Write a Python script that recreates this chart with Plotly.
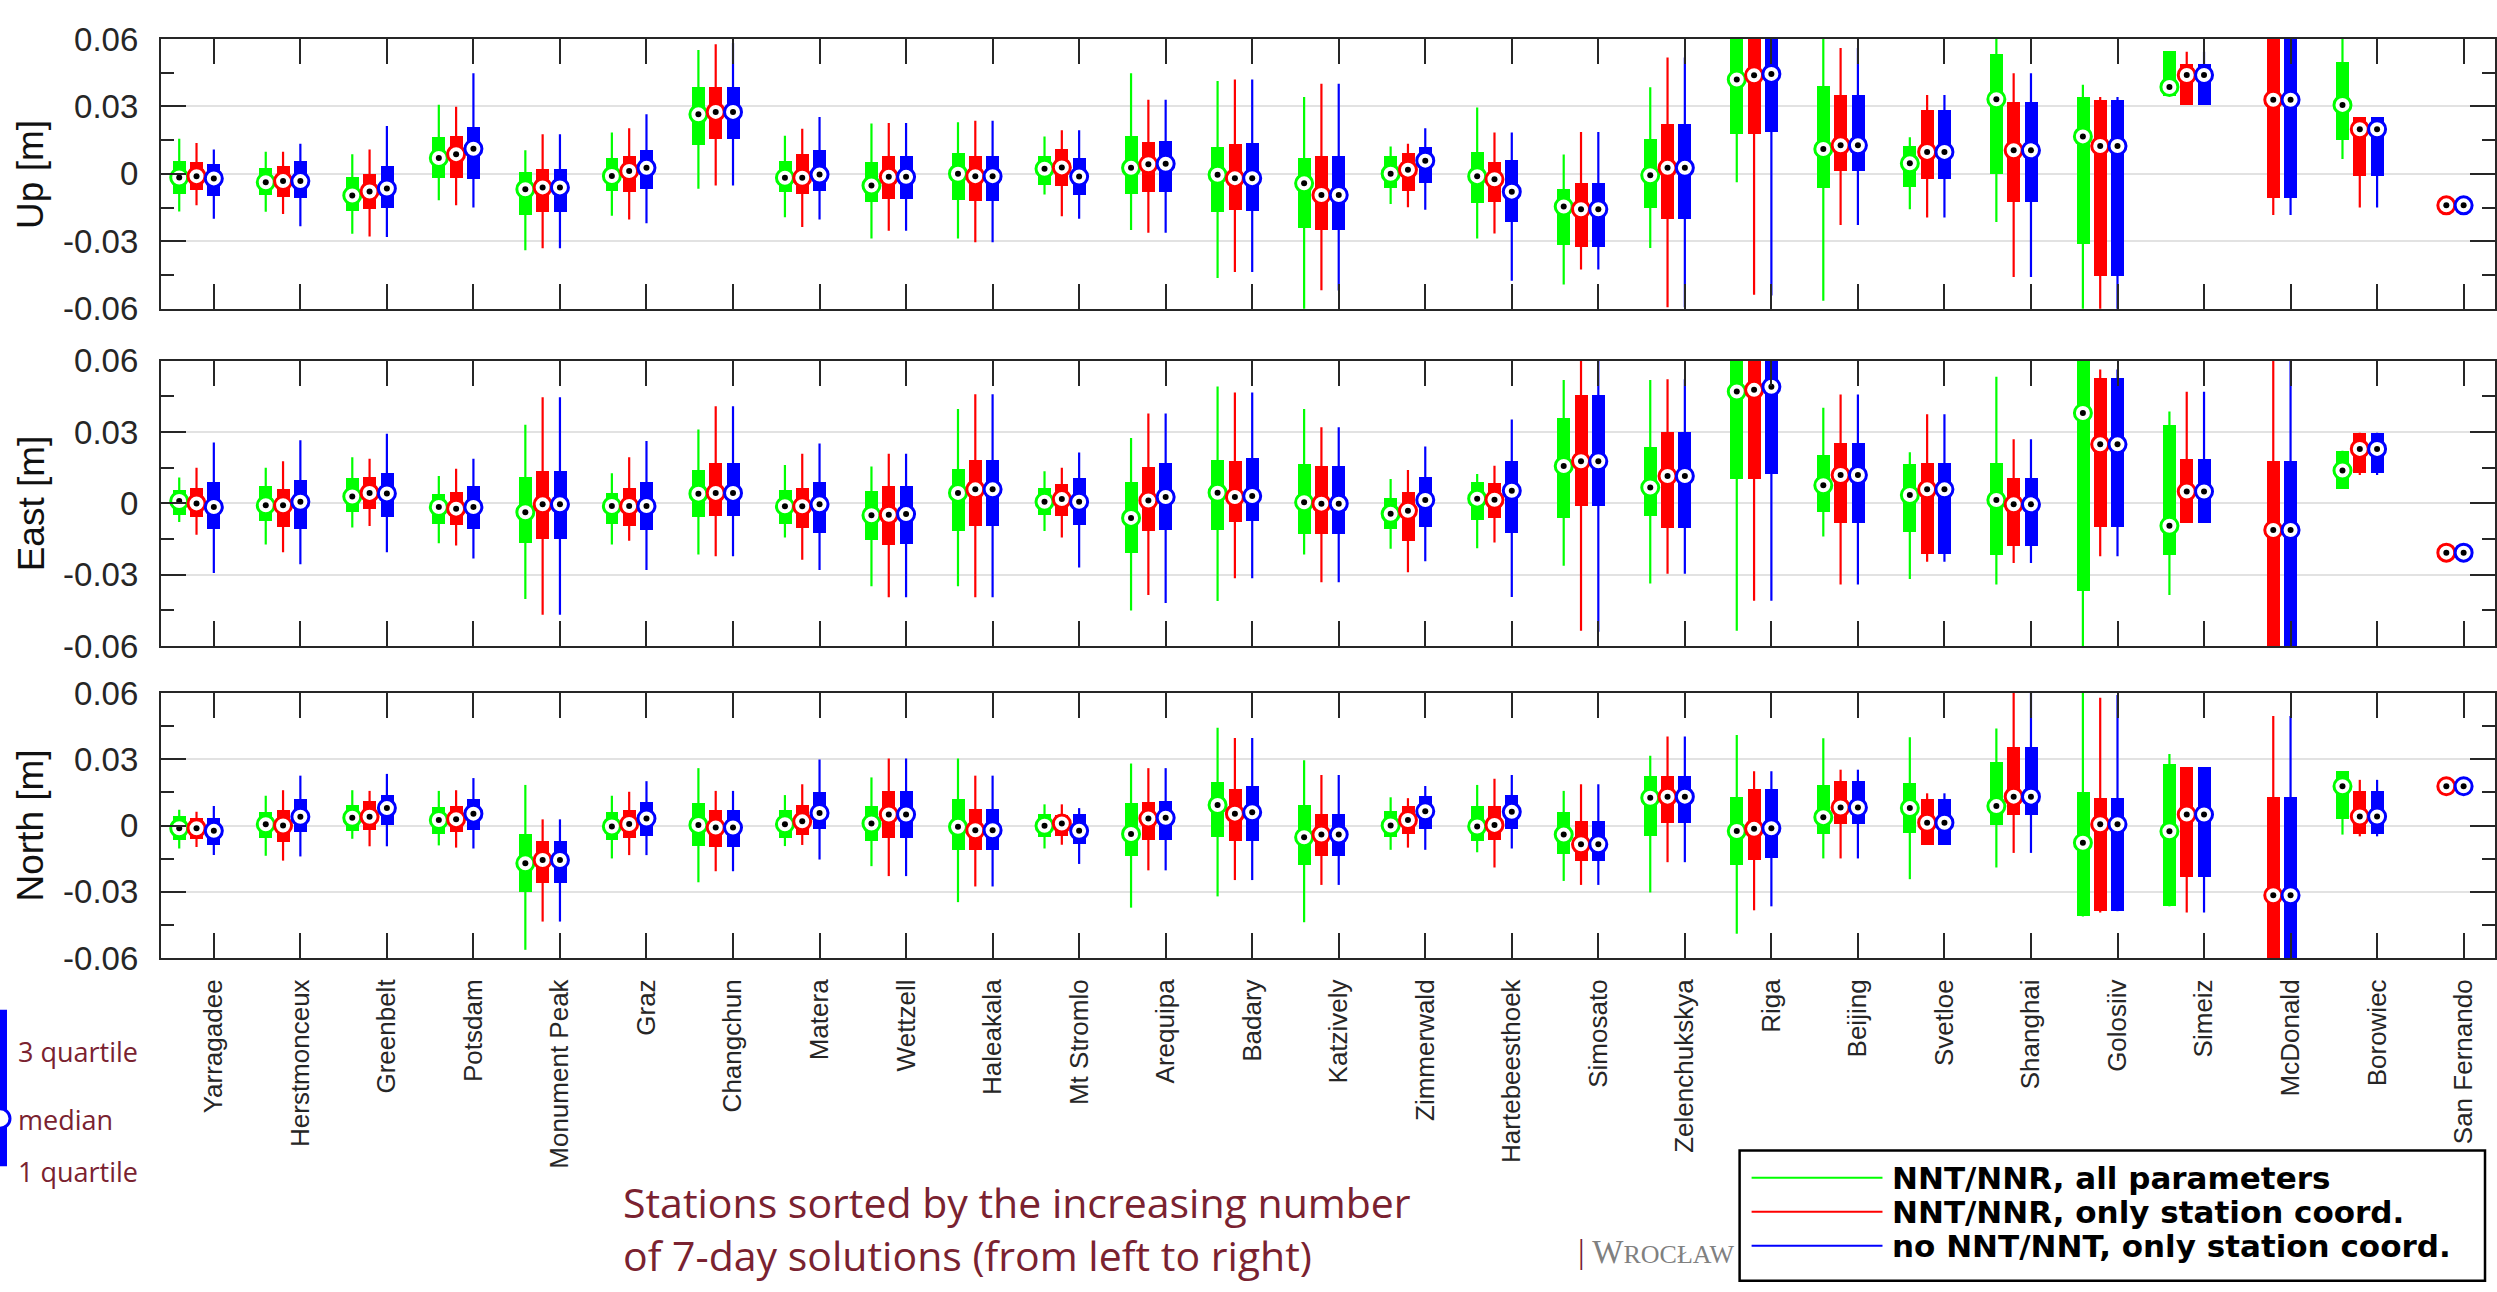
import plotly.graph_objects as go

# Station names, sorted by the increasing number of 7-day solutions
stations = [
    "Yarragadee", "Herstmonceux", "Greenbelt", "Potsdam", "Monument Peak", "Graz",
    "Changchun", "Matera", "Wettzell", "Haleakala", "Mt Stromlo", "Arequipa", "Badary",
    "Katzively", "Zimmerwald", "Hartebeesthoek", "Simosato", "Zelenchukskya", "Riga",
    "Beijing", "Svetloe", "Shanghai", "Golosiiv", "Simeiz", "McDonald", "Borowiec",
    "San Fernando",
]

# Per station: (lower whisker, 1st quartile, median, 3rd quartile, upper whisker) in mm.
# None = no solutions for that variant.
up_all = [
    (-16.7, -8.9, -1.6, 5.8, 15.7), (-16.8, -9.5, -3.7, 2.7, 9.9), (-26.6, -16.7, -9.6, -1.4, 8.8),
    (-11.7, -1.7, 7.1, 16.4, 30.8), (-34.0, -18.3, -6.8, 0.7, 10.5), (-18.6, -7.8, -0.9, 7.1, 18.4),
    (-6.6, 12.8, 26.5, 38.7, 55.1), (-19.3, -8.2, -1.7, 5.9, 17.0), (-28.8, -12.7, -5.2, 5.3, 22.4),
    (-28.8, -11.5, 0.1, 9.2, 23.0), (-9.2, -5.0, 2.3, 8.1, 16.7), (-25.0, -8.9, 2.7, 17.0, 44.8),
    (-46.3, -16.8, -0.4, 12.1, 41.4), (-62.0, -23.9, -4.2, 6.9, 34.2), (-13.4, -6.3, 0.1, 8.1, 12.2),
    (-28.8, -13.2, -1.0, 9.6, 29.6), (-49.2, -31.5, -14.5, -6.6, 8.6), (-33.0, -15.0, -0.6, 15.7, 38.6),
    (-3.7, 17.8, 42.0, 64.0, 75.0), (-56.4, -6.2, 11.1, 39.0, 61.0), (-15.7, -5.9, 4.7, 12.4, 16.3),
    (-21.4, 0.1, 33.2, 53.4, 61.0), (-62.0, -31.2, 16.7, 34.0, 39.7), (34.7, 34.7, 38.7, 54.5, 54.5),
    None, (6.6, 15.1, 30.7, 49.8, 61.0), None,
]
up_sta = [
    (-14.0, -7.2, -1.0, 5.3, 13.8), (-17.8, -10.1, -3.2, 3.6, 9.9), (-27.9, -15.5, -7.8, 0.1, 10.9),
    (-14.0, -1.7, 8.8, 16.8, 29.9), (-33.1, -16.8, -6.0, 2.0, 17.7), (-20.3, -7.9, 1.3, 8.1, 20.3),
    (-5.2, 15.5, 27.6, 38.7, 57.7), (-23.6, -8.9, -1.7, 8.8, 20.1), (-25.3, -11.1, -1.3, 8.1, 22.7),
    (-30.4, -12.2, -1.0, 8.1, 23.6), (-18.9, -5.6, 2.9, 10.9, 19.4), (-26.2, -8.1, 4.3, 14.2, 33.0),
    (-43.7, -16.0, -1.9, 13.2, 42.0), (-51.8, -24.9, -9.4, 7.8, 40.1), (-14.8, -7.6, 1.9, 9.1, 13.4),
    (-26.5, -12.4, -2.4, 5.3, 18.4), (-42.5, -32.5, -15.7, -4.2, 18.7), (-59.3, -20.3, 2.7, 22.0, 51.8),
    (-53.8, 17.8, 43.9, 64.0, 75.0), (-22.7, 1.2, 12.7, 35.1, 56.0), (-19.4, -2.2, 9.8, 28.5, 35.1),
    (-45.9, -12.5, 10.5, 31.8, 44.8), (-62.0, -45.6, 12.4, 33.0, 34.2), (30.7, 30.7, 44.0, 49.0, 54.4),
    (-18.3, -10.6, 33.0, 64.0, 75.0), (-15.0, -1.0, 19.9, 25.3, 25.3), (-14.0, -14.0, -14.0, -14.0, -14.0),
]
up_none = [
    (-20.0, -9.8, -2.0, 4.2, 10.9), (-23.3, -10.6, -3.2, 5.8, 13.4), (-28.1, -15.1, -6.5, 3.7, 21.3),
    (-15.0, -2.2, 11.2, 20.7, 44.8), (-33.1, -16.8, -6.0, 2.0, 17.7), (-22.0, -6.6, 2.7, 10.8, 26.5),
    (-5.2, 15.5, 27.6, 38.7, 58.4), (-20.3, -7.8, -0.3, 10.5, 25.3), (-25.3, -11.1, -1.3, 8.1, 22.7),
    (-30.4, -12.2, -1.0, 8.1, 23.6), (-20.0, -9.4, -1.2, 7.1, 19.4), (-26.2, -8.1, 4.5, 14.7, 33.0),
    (-43.7, -16.7, -1.9, 13.7, 42.0), (-51.9, -24.9, -9.4, 7.8, 40.1), (-16.0, -3.9, 5.9, 11.9, 20.3),
    (-47.5, -21.4, -7.9, 6.2, 18.4), (-42.5, -32.5, -15.7, -4.2, 18.7), (-59.3, -20.3, 2.7, 22.0, 51.8),
    (-54.1, 18.4, 44.5, 64.0, 75.0), (-22.7, 1.2, 12.7, 35.1, 56.0), (-19.4, -2.2, 9.8, 28.5, 35.1),
    (-45.9, -12.5, 10.5, 31.8, 44.8), (-62.0, -45.6, 12.4, 33.0, 34.2), (30.7, 30.7, 44.0, 49.0, 54.4),
    (-18.3, -10.6, 33.0, 64.0, 75.0), (-15.0, -1.0, 19.9, 25.3, 25.3), (-14.0, -14.0, -14.0, -14.0, -14.0),
]

east_all = [
    (-7.8, -4.8, 1.0, 6.0, 10.9), (-17.3, -7.2, -0.8, 7.5, 15.0), (-10.1, -3.3, 2.9, 10.8, 19.4),
    (-16.8, -8.5, -1.5, 4.0, 11.5), (-40.2, -16.4, -3.7, 11.3, 33.0), (-17.3, -8.5, -1.1, 4.4, 12.7),
    (-21.5, -5.7, 4.1, 14.0, 31.0), (-14.3, -8.5, -1.2, 5.7, 16.1), (-34.8, -15.3, -5.0, 5.2, 15.5),
    (-34.8, -11.6, 4.4, 14.5, 39.7), (-11.6, -4.8, 0.7, 6.8, 13.5), (-45.0, -20.5, -6.1, 9.3, 27.5),
    (-41.0, -11.0, 4.5, 18.5, 49.1), (-21.5, -12.5, 0.5, 16.6, 39.7), (-19.1, -10.5, -4.4, 2.3, 10.2),
    (-18.8, -6.8, 2.0, 9.3, 12.3), (-26.2, -5.9, 15.7, 36.0, 51.8), (-33.7, -5.0, 6.7, 23.9, 51.8),
    (-53.5, 10.5, 47.0, 64.0, 75.0), (-13.9, -3.4, 7.6, 20.5, 40.2), (-31.8, -12.0, 3.5, 16.6, 21.5),
    (-34.1, -21.5, 1.4, 17.0, 53.2), (-64.0, -36.5, 38.0, 64.0, 75.0), (-38.5, -21.4, -9.4, 33.3, 38.6),
    None, (6.4, 6.4, 13.8, 22.1, 22.1), None,
]
east_sta = [
    (-13.2, -5.7, 0.0, 6.8, 15.0), (-20.5, -9.8, -0.8, 6.1, 17.7), (-9.5, -2.0, 4.4, 11.3, 18.8),
    (-17.7, -9.1, -2.2, 5.0, 14.6), (-46.8, -14.7, -0.4, 13.6, 44.6), (-15.7, -9.3, -1.1, 6.7, 19.4),
    (-22.2, -5.2, 4.4, 17.2, 40.8), (-23.7, -10.1, -1.2, 6.7, 20.9), (-39.4, -17.3, -4.8, 7.6, 20.9),
    (-39.4, -9.3, 5.9, 18.5, 45.9), (-14.3, -5.0, 1.8, 8.3, 15.0), (-38.5, -11.6, 1.2, 15.4, 37.8),
    (-31.5, -7.6, 2.7, 18.1, 46.6), (-33.1, -12.5, -0.1, 15.7, 32.0), (-28.9, -15.7, -3.1, 5.0, 14.0),
    (-16.4, -5.9, 1.5, 8.6, 15.8), (-53.5, -1.1, 17.7, 45.8, 60.3), (-29.6, -10.0, 11.5, 30.0, 52.2),
    (-40.9, 10.5, 47.7, 64.0, 75.0), (-34.1, -8.2, 11.9, 25.6, 45.8), (-24.5, -21.1, 5.9, 17.0, 37.5),
    (-25.1, -17.7, -0.4, 10.8, 27.0), (-22.2, -9.8, 24.8, 52.8, 56.3), (-8.2, -8.2, 5.0, 19.0, 46.9),
    (-64.0, -64.0, -11.2, 18.1, 61.0), (11.9, 12.8, 22.9, 29.7, 29.7), (-20.7, -20.7, -20.7, -20.7, -20.7),
]
east_none = [
    (-29.3, -10.6, -1.5, 9.1, 25.6), (-25.6, -10.4, 0.7, 9.8, 26.5), (-20.5, -5.7, 4.2, 12.8, 29.3),
    (-23.2, -10.8, -1.5, 7.5, 18.8), (-46.8, -14.7, -0.4, 13.6, 44.6), (-28.0, -11.0, -1.1, 9.1, 26.2),
    (-22.2, -5.2, 4.4, 17.2, 40.8), (-28.0, -12.1, -0.4, 9.3, 25.2), (-39.4, -16.8, -4.5, 7.6, 20.9),
    (-39.4, -9.3, 5.9, 18.5, 45.9), (-26.9, -8.9, 0.7, 10.9, 21.4), (-41.9, -11.2, 2.7, 17.0, 37.8),
    (-31.5, -7.4, 3.1, 19.1, 46.6), (-33.1, -12.5, -0.1, 15.7, 32.0), (-24.3, -9.8, 1.4, 11.2, 23.9),
    (-39.3, -12.4, 5.3, 18.1, 35.2), (-53.9, -1.1, 17.7, 45.8, 60.3), (-29.6, -10.0, 11.5, 30.0, 52.2),
    (-40.9, 12.5, 49.0, 64.0, 75.0), (-34.1, -8.2, 11.9, 25.6, 45.8), (-24.5, -21.1, 5.9, 17.0, 37.5),
    (-25.1, -17.7, -0.4, 10.8, 27.0), (-22.2, -9.8, 24.8, 52.8, 56.3), (-8.2, -8.2, 5.0, 19.0, 46.9),
    (-64.0, -64.0, -11.2, 18.1, 61.0), (11.9, 12.8, 22.9, 29.7, 29.7), (-20.7, -20.7, -20.7, -20.7, -20.7),
]

north_all = [
    (-10.4, -6.5, -1.2, 4.3, 7.2), (-13.7, -5.9, 0.6, 6.2, 13.5), (-6.0, -2.4, 3.5, 9.4, 16.0),
    (-9.0, -3.8, 2.5, 8.2, 15.7), (-56.3, -30.3, -17.1, -3.8, 18.4), (-14.9, -6.8, -0.4, 5.9, 13.5),
    (-25.7, -9.3, 0.3, 10.1, 26.0), (-9.3, -5.6, 0.6, 6.8, 13.8), (-18.4, -7.1, 0.9, 8.8, 21.8),
    (-34.7, -11.0, -0.6, 12.1, 30.4), (-10.4, -5.1, -0.1, 5.3, 9.6), (-37.2, -13.7, -3.8, 10.3, 28.1),
    (-32.1, -5.3, 9.3, 19.7, 44.3), (-43.8, -17.8, -5.3, 9.4, 29.6), (-11.0, -5.1, 0.0, 6.6, 12.8),
    (-12.1, -7.2, -0.4, 8.8, 18.4), (-25.1, -12.9, -4.1, 5.9, 15.7), (-30.3, -4.9, 12.6, 22.4, 31.6),
    (-49.0, -18.1, -2.5, 12.8, 41.0), (-14.9, -3.8, 3.8, 18.2, 39.6), (-24.3, -3.2, 7.9, 19.1, 40.0),
    (-19.0, 0.0, 8.8, 28.7, 44.0), (-41.2, -41.2, -7.8, 15.1, 61.0), (-36.6, -36.6, -2.6, 27.8, 32.4),
    None, (-4.1, 2.9, 17.8, 24.7, 24.7), None,
]
north_sta = [
    (-9.7, -6.3, -1.2, 3.2, 6.3), (-15.9, -7.6, 0.0, 6.8, 16.0), (-9.4, -1.9, 4.0, 11.2, 15.7),
    (-10.0, -3.1, 2.9, 8.8, 16.0), (-43.5, -25.9, -15.6, -7.2, 2.8), (-13.4, -5.9, 0.7, 6.8, 15.3),
    (-20.7, -9.9, -0.9, 6.8, 15.7), (-8.8, -4.3, 1.9, 9.4, 18.7), (-22.9, -5.7, 5.0, 15.6, 30.4),
    (-27.6, -11.0, -2.1, 7.6, 22.6), (-8.7, -4.9, 0.9, 4.7, 9.6), (-20.3, -6.5, 3.2, 10.6, 26.0),
    (-24.7, -7.1, 5.4, 16.3, 39.7), (-26.9, -14.0, -4.1, 5.1, 22.9), (-10.0, -3.8, 2.5, 8.8, 12.4),
    (-19.0, -6.8, 0.3, 8.8, 21.2), (-26.9, -16.3, -8.5, 2.2, 18.7), (-16.6, 1.0, 13.1, 22.4, 40.3),
    (-38.4, -15.6, -1.5, 16.5, 24.6), (-14.9, 0.7, 8.2, 20.1, 25.3), (-8.8, -8.8, 1.3, 12.1, 14.6),
    (-12.4, 4.6, 13.1, 35.6, 61.0), (-39.4, -38.8, 0.6, 12.4, 57.9), (-39.4, -23.5, 5.0, 26.5, 26.5),
    (-64.0, -64.0, -31.6, 13.1, 49.6), (-4.9, -3.8, 4.1, 15.7, 20.7), (17.8, 17.8, 17.8, 17.8, 17.8),
]
north_none = [
    (-13.4, -8.8, -2.4, 3.2, 8.8), (-14.0, -3.1, 4.0, 12.1, 22.6), (-9.4, 0.0, 7.9, 13.8, 23.4),
    (-10.4, -1.9, 5.4, 12.2, 21.5), (-43.5, -25.9, -15.6, -7.2, 2.8), (-13.4, -4.9, 3.2, 10.6, 20.1),
    (-20.7, -9.9, -0.9, 6.8, 15.7), (-15.4, -1.5, 5.7, 15.3, 29.9), (-22.9, -5.7, 5.0, 15.6, 30.4),
    (-27.6, -11.0, -2.1, 7.6, 22.6), (-17.4, -8.2, -2.4, 5.4, 7.9), (-20.3, -6.5, 3.5, 11.2, 26.0),
    (-24.7, -7.1, 6.0, 17.8, 39.7), (-26.9, -14.0, -4.1, 5.1, 22.9), (-11.0, -1.5, 6.5, 13.4, 17.9),
    (-10.4, -1.5, 6.2, 14.0, 22.9), (-26.9, -16.3, -8.5, 2.2, 18.7), (-16.6, 1.0, 13.1, 22.4, 40.3),
    (-36.6, -14.7, -1.2, 16.5, 24.6), (-14.9, 0.7, 8.2, 20.1, 25.3), (-8.8, -8.8, 1.3, 12.1, 14.6),
    (-12.4, 4.6, 13.1, 35.6, 61.0), (-38.8, -38.8, 0.6, 12.4, 59.1), (-39.4, -23.5, 5.0, 26.5, 26.5),
    (-64.0, -64.0, -31.6, 13.1, 49.6), (-4.9, -3.8, 4.1, 15.7, 20.7), (17.8, 17.8, 17.8, 17.8, 17.8),
]

series_names = ["NNT/NNR, all parameters", "NNT/NNR, only station coord.", "no NNT/NNT, only station coord."]
series_colors = ["#00FF00", "#FF0000", "#0000FF"]
series_offsets = [-0.4, -0.2, 0.0]

panel_titles = ["Up [m]", "East [m]", "North [m]"]
panel_data = [
    [up_all, up_sta, up_none],
    [east_all, east_sta, east_none],
    [north_all, north_sta, north_none],
]

W, H = 2497, 1292
FONT = "Liberation Sans, Arial, Helvetica, sans-serif"
AXC = "#262626"
LABEL_RED = "#7A2230"

# panel frames in pixels (top, bottom); the x frame spans 161..2497
panel_px = [(21.7, 299.3), (352.7, 646.7), (695.0, 967.7)]
x_left_px = 161.0


def px(x):
    return x / W


def py(y):
    return 1 - y / H


fig = go.Figure()

for row, (title, data) in enumerate(zip(panel_titles, panel_data)):
    xa = "x" if row == 0 else f"x{row + 1}"
    ya = "y" if row == 0 else f"y{row + 1}"
    for name, color, off, stats in zip(series_names, series_colors, series_offsets, data):
        wx, wy = [], []
        bx, bbase, bh = [], [], []
        mx, my = [], []
        for k, s in enumerate(stats, start=1):
            if s is None:
                continue
            lo, q1, med, q3, hi = [v / 1000.0 for v in s]
            pos = k + off
            wx += [pos, pos, None]
            wy += [lo, hi, None]
            bx.append(pos)
            bbase.append(q1)
            bh.append(q3 - q1)
            mx.append(pos)
            my.append(med)
        # whiskers
        fig.add_trace(go.Scatter(
            x=wx, y=wy, mode="lines", line=dict(color=color, width=2.2),
            xaxis=xa, yaxis=ya, showlegend=False, hoverinfo="skip"))
        # interquartile boxes
        fig.add_trace(go.Bar(
            x=bx, y=bh, base=bbase, width=0.15,
            marker=dict(color=color, line=dict(width=0)),
            xaxis=xa, yaxis=ya, showlegend=False, name=name))
        # medians: white ring with a black centre dot
        fig.add_trace(go.Scatter(
            x=mx, y=my, mode="markers",
            marker=dict(symbol="circle", size=17, color="white", line=dict(color=color, width=3)),
            xaxis=xa, yaxis=ya, showlegend=False, name=name))
        fig.add_trace(go.Scatter(
            x=mx, y=my, mode="markers",
            marker=dict(symbol="circle", size=6, color="black"),
            xaxis=xa, yaxis=ya, showlegend=False, hoverinfo="skip"))

x_range = [1 + (x_left_px - 214.0) / 86.6, 1 + (W - 214.0) / 86.6]

layout_axes = {}
for row in range(3):
    top, bot = panel_px[row]
    xkey = "xaxis" if row == 0 else f"xaxis{row + 1}"
    ykey = "yaxis" if row == 0 else f"yaxis{row + 1}"
    last = row == 2
    layout_axes[xkey] = dict(
        domain=[px(x_left_px), 1.0], range=x_range, anchor="y" if row == 0 else f"y{row + 1}",
        tickmode="array", tickvals=list(range(1, len(stations) + 1)),
        ticktext=stations if last else [""] * len(stations),
        showticklabels=last, tickangle=-90,
        tickfont=dict(family=FONT, size=26, color=AXC),
        ticks="inside", ticklen=25, tickwidth=2, tickcolor=AXC,
        showline=True, linecolor=AXC, linewidth=2, mirror="ticks",
        showgrid=False, zeroline=False, ticklabelstandoff=9,
    )
    layout_axes[ykey] = dict(
        domain=[py(bot), py(top)], range=[-0.06, 0.06],
        anchor="x" if row == 0 else f"x{row + 1}",
        tickmode="array", tickvals=[-0.06, -0.03, 0, 0.03, 0.06],
        ticktext=["-0.06", "-0.03", "0", "0.03", "0.06"],
        tickfont=dict(family=FONT, size=33, color=AXC),
        ticks="inside", ticklen=25, tickwidth=2, tickcolor=AXC,
        minor=dict(tickvals=[-0.045, -0.015, 0.015, 0.045], ticks="inside", ticklen=13,
                   tickwidth=2, tickcolor=AXC, showgrid=False),
        showline=True, linecolor=AXC, linewidth=2, mirror="ticks",
        showgrid=True, gridcolor="#E2E2E2", gridwidth=2, zeroline=False,
        ticklabelstandoff=14,
    )

annotations = []
for row, title in enumerate(panel_titles):
    top, bot = panel_px[row]
    annotations.append(dict(
        x=px(31), y=py((top + bot) / 2), xref="paper", yref="paper", text=title,
        textangle=-90, showarrow=False, xanchor="center", yanchor="middle",
        font=dict(family=FONT, size=37, color="#111111")))

# caption under the station names
annotations.append(dict(
    x=px(621), y=py(1246), xref="paper", yref="paper", xanchor="left", yanchor="middle",
    align="left", showarrow=False,
    text="Stations sorted by the increasing number<br>of 7-day solutions (from left to right)",
    font=dict(family="Open Sans, sans-serif", size=41, color=LABEL_RED)))

# footer text
annotations.append(dict(
    x=px(1577), y=py(1270), xref="paper", yref="paper", xanchor="left", yanchor="middle",
    showarrow=False,
    text=f"<span style='color:{LABEL_RED}'>|</span> W<span style='font-size:26px'>ROCŁAW</span>",
    font=dict(family="Liberation Serif, serif", size=33, color="#808080")))

# small box-plot key on the left
for label, ypos in [("3 quartile", 1064), ("median", 1134), ("1 quartile", 1188)]:
    annotations.append(dict(
        x=px(16), y=py(ypos), xref="paper", yref="paper", xanchor="left", yanchor="middle",
        showarrow=False, text=label,
        font=dict(family="Open Sans, sans-serif", size=27, color=LABEL_RED)))

shapes = [
    dict(type="line", xref="paper", yref="paper", x0=px(3), x1=px(3), y0=py(1021), y1=py(1182),
         line=dict(color="#0000FF", width=8)),
    dict(type="circle", xref="paper", yref="paper", x0=px(-10), x1=px(10), y0=py(1143), y1=py(1123),
         fillcolor="white", line=dict(color="#0000FF", width=3)),
]

# legend box at the bottom right
leg_x0, leg_x1, leg_y0, leg_y1 = 1741, 2487, 1166, 1300
shapes.append(dict(type="rect", xref="paper", yref="paper",
                   x0=px(leg_x0), x1=px(leg_x1), y0=py(leg_y1), y1=py(leg_y0),
                   fillcolor="white", line=dict(color="black", width=2.5), layer="above"))
for name, color, ypos in zip(series_names, series_colors, [1194, 1229, 1264]):
    shapes.append(dict(type="line", xref="paper", yref="paper",
                       x0=px(1753), x1=px(1884), y0=py(ypos), y1=py(ypos),
                       line=dict(color=color, width=2), layer="above"))
    annotations.append(dict(
        x=px(1892), y=py(ypos), xref="paper", yref="paper", xanchor="left", yanchor="middle",
        showarrow=False, text=f"<b>{name}</b>",
        font=dict(family="DejaVu Sans, sans-serif", size=31, color="black")))

fig.update_layout(
    width=W, height=H,
    margin=dict(l=0, r=0, t=0, b=0),
    paper_bgcolor="white", plot_bgcolor="white",
    barmode="overlay", bargap=0,
    showlegend=False,
    annotations=annotations, shapes=shapes,
    **layout_axes,
)

fig.write_html("out.html")
